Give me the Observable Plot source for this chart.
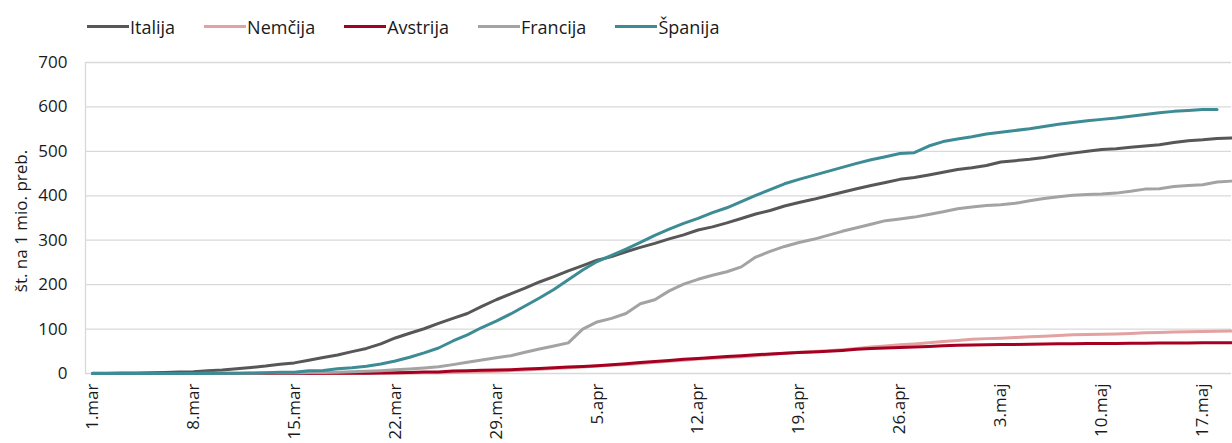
<!DOCTYPE html>
<html>
<head>
<meta charset="utf-8">
<script src="https://cdn.jsdelivr.net/npm/d3@7"></script>
<script src="https://cdn.jsdelivr.net/npm/@observablehq/plot@0.6"></script>
<style>
  body { margin: 0; background: #fff; font-family: "Open Sans", sans-serif; }
  #legend { display: flex; height: 45px; padding-left: 87px; box-sizing: border-box; align-items: flex-start; }
  .item { display: flex; align-items: center; margin-top: 14px; height: 25px; margin-right: 29px; font-size: 18px; color: #1a1a1a; }
  .sw { width: 42px; height: 3px; margin-right: 1px; }
</style>
</head>
<body>
<div id="legend"></div>
<div id="chart"></div>
<script>
const seriesNames = ["Italija", "Nemčija", "Avstrija", "Francija", "Španija"];
const seriesColors = ["#575757", "#e3a1a1", "#a50021", "#a3a3a3", "#3d8c95"];
const startDate = "2020-03-01";

const italija = [0.5,0.6,0.9,1.3,1.8,2.5,3.3,3.9,6.1,7.7,
  10.5,13.7,16.8,21.0,23.9,30.0,35.8,41.5,49.3,56.4,
  66.8,80,90.7,100.7,113,124,135,151,166,179,
  192,206,218,231,243,255,263,274,284,293,
  303,312,323,330,339,349,359,367,377,385,
  392,400,408,416,423,430,437,441,447,453,
  459,463,468,476,479,482,486,492,496,500,
  504,506,509,512,515,520,524,526,529,530];
const nemcija = [0,0,0,0,0,0,0,0,0,0.02,
  0.02,0.04,0.04,0.06,0.1,0.1,0.15,0.2,0.3,0.4,
  0.6,0.8,1.1,1.5,1.9,2.5,3.2,4.1,5.2,6.5,
  7.9,9.4,11,12.9,14.8,16.7,18.3,20.2,22.7,25.2,
  27.5,30,32.5,34.5,36,37.5,40,43,45.5,48,
  49.5,51,53.5,56.5,59.5,62,64.5,66.5,69,72,
  74.5,77,78.5,79.5,81,82.5,84,85.5,87,88,
  88.5,89,90,91.5,92.5,93.5,94,94.5,95,95.5];
const avstrija = [0,0,0,0,0,0,0,0,0,0,
  0,0,0.1,0.1,0.1,0.1,0.3,0.4,0.7,0.7,
  0.9,1.8,2.3,3.1,3.3,5.4,6.4,7.2,8,8.5,
  10,11.5,13,14.5,16,17.5,19.5,22,24.5,27,
  29.5,32,34,36,38,40,42,44,45.5,47,
  48.5,50,52,54.5,56,57.5,58.5,59.5,61,62.5,
  63.5,64,64.5,65,65.5,66,66.5,66.8,67,67.3,
  67.6,67.8,68,68.2,68.4,68.6,68.8,69,69.2,69.4];
const francija = [0.03,0.05,0.05,0.06,0.09,0.14,0.14,0.28,0.29,0.38,
  0.5,0.7,0.9,1.2,1.4,1.9,2.3,3.0,3.8,4.9,
  6.4,8.3,10.2,12.5,15.3,20,25.4,30.2,35.5,40.1,
  47.7,55,62,69,100,116,124,135,157,166,
  186,201,212,221,229,240,262,275,286,295,
  302,311,320,328,336,344,348,352,358,364,
  371,375,378,380,383,389,394,398,401,403,
  404,406,410,415,416,421,423,425,431,433];
const spanija = [0,0,0,0,0.02,0.04,0.06,0.1,0.2,0.36,
  0.75,1.2,1.8,2.6,2.9,6.1,6.6,10.5,12.7,16.3,
  21.3,28.2,36.6,46.5,57.4,73.2,87.1,103.5,118,134,
  152,170,189,211,233,252,266,280,295,311,
  325,338,349,362,373,387,401,414,427,437,
  446,455,464,473,481,488,495,497,512,522,
  528,533,539,543,547,551,556,561,565,569,
  572,575,579,583,587,590,592,594,594];

const tickDates = ["2020-03-01","2020-03-08","2020-03-15","2020-03-22","2020-03-29","2020-04-05",
  "2020-04-12","2020-04-19","2020-04-26","2020-05-03","2020-05-10","2020-05-17"];
const tickLabels = ["1.mar","8.mar","15.mar","22.mar","29.mar","5.apr","12.apr","19.apr","26.apr","3.maj","10.maj","17.maj"];
const yTicks = [0,100,200,300,400,500,600,700];
const yTitle = "št. na 1 mio. preb.";

const seriesValues = [italija, nemcija, avstrija, francija, spanija];
const start = new Date(startDate + "T00:00:00Z");
const table = [];
seriesValues.forEach((vals, s) => {
  vals.forEach((v, i) => table.push({series: seriesNames[s], date: d3.utcDay.offset(start, i), value: v}));
});
const endDate = d3.utcDay.offset(start, italija.length - 1);
const tickDateObjs = tickDates.map(d => new Date(d + "T00:00:00Z"));
const labelMap = new Map(tickDateObjs.map((d, i) => [+d, tickLabels[i]]));

// legend
const legend = document.getElementById("legend");
seriesNames.forEach((n, i) => {
  const it = document.createElement("div");
  it.className = "item";
  const sw = document.createElement("span");
  sw.className = "sw";
  sw.style.background = seriesColors[i];
  const tx = document.createElement("span");
  tx.textContent = n;
  it.appendChild(sw); it.appendChild(tx);
  legend.appendChild(it);
});

const chart = Plot.plot({
  width: 1232,
  height: 398,
  marginLeft: 85,
  marginRight: 1,
  marginTop: 17,
  marginBottom: 70,
  insetLeft: 7,
  style: {fontFamily: "Open Sans, sans-serif", fontSize: "17px", color: "#1a1a1a", background: "#fff"},
  x: {type: "utc", domain: [start, endDate]},
  y: {domain: [0, 700]},
  color: {domain: seriesNames, range: seriesColors},
  marks: [
    Plot.gridY(yTicks, {stroke: "#d9d9d9", strokeOpacity: 1, strokeWidth: 1.3}),
    Plot.ruleX([start], {y1: 0, y2: 700, dx: -7, stroke: "#d9d9d9", strokeWidth: 1.3}),
    Plot.axisY(yTicks, {tickSize: 0, tickPadding: 18, fontSize: 17, label: null}),
    Plot.axisX(tickDateObjs, {tickSize: 0, tickPadding: 10, tickRotate: -90, fontSize: 17, label: null,
      tickFormat: d => labelMap.get(+d)}),
    Plot.line(table, {x: "date", y: "value", z: "series", stroke: "series", strokeWidth: 3,
      strokeLinejoin: "round", strokeLinecap: "round"}),
    Plot.text([yTitle], {frameAnchor: "left", textAnchor: "middle", dx: -64, dy: 3, rotate: -90,
      fontSize: 17, text: d => d, fill: "#1a1a1a"})
  ]
});
document.getElementById("chart").appendChild(chart);
</script>
</body>
</html>
